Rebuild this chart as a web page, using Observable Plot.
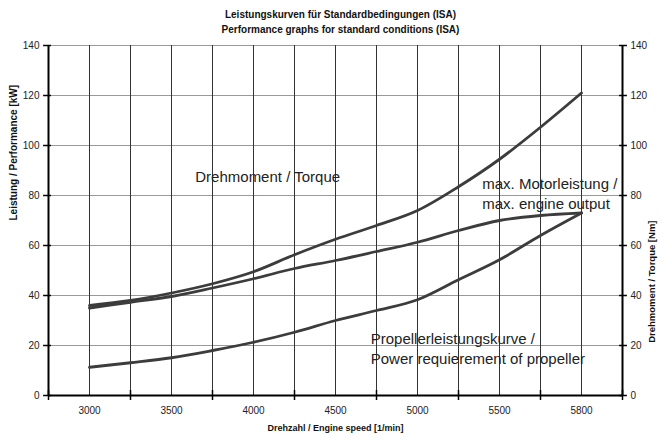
<!DOCTYPE html>
<html>
<head>
<meta charset="utf-8">
<script src="https://cdn.jsdelivr.net/npm/d3@7"></script>
<script src="https://cdn.jsdelivr.net/npm/@observablehq/plot@0.6"></script>
<style>
  html, body { margin: 0; padding: 0; background: #fff; }
  svg { font-family: "Liberation Sans", Arial, sans-serif; display: block; }
</style>
</head>
<body>
<div id="chart"></div>
<script>
// Category tick labels (engine speed, 1/min)
const speedLabels = ["3000", "3500", "4000", "4500", "5000", "5500", "5800"];
const speeds = speedLabels.map(Number);
const yTicks = [0, 20, 40, 60, 80, 100, 120, 140];

// Curve samples
const rpm       = [3000, 3250, 3500, 3750, 4000, 4250, 4500, 4750, 5000, 5250, 5500, 5650, 5800];
const torque    = [36, 38, 41, 44.7, 49.5, 56.3, 62.5, 68, 74, 83.5, 94.5, 107.3, 121];
const power     = [35, 37.3, 39.6, 43, 46.7, 50.8, 54, 57.6, 61.3, 66, 70, 72, 73];
const propeller = [11.3, 13.1, 15.1, 18, 21.3, 25.3, 30, 34, 38.3, 46.3, 54.3, 64, 73];

// Annotation texts
const labelTexts = ["Drehmoment / Torque", "max. Motorleistung /\nmax. engine output", "Propellerleistungskurve /\nPower requierement of propeller"];
const labelRpm = [3645, 5395, 4715];
const labelVal = [88, 81.2, 19];

const titleLines = ["Leistungskurven für Standardbedingungen (ISA)", "Performance graphs for standard conditions (ISA)"];
const xTitle = "Drehzahl / Engine speed [1/min]";
const yTitleLeft = "Leistung / Performance [kW]";
const yTitleRight = "Drehmoment / Torque [Nm]";

// map rpm to category position (categories are evenly spaced)
function pos(r) {
  for (let i = 0; i < speeds.length - 1; i++) {
    if (r <= speeds[i + 1]) return i + (r - speeds[i]) / (speeds[i + 1] - speeds[i]);
  }
  return speeds.length - 1;
}

const n = speeds.length;
const centers = speeds.map((_, i) => i);
const bounds = d3.range(-0.5, n, 1);            // category boundaries (incl. frame edges)
const innerBounds = bounds.slice(1, -1);
const gridX = centers.concat(innerBounds);
const xMin = -0.5, xMax = n - 0.5;

const series = [
  {name: "torque", values: torque},
  {name: "power", values: power},
  {name: "propeller", values: propeller}
];
const lineData = series.flatMap(s => s.values.map((v, i) => ({name: s.name, x: pos(rpm[i]), y: v})));
const labels = labelTexts.map((t, i) => ({text: t, x: pos(labelRpm[i]), y: labelVal[i]}));

const tickHalf = 0.06;

const chart = Plot.plot({
  width: 664,
  height: 440,
  marginLeft: 48,
  marginRight: 42,
  marginTop: 45,
  marginBottom: 45,
  style: {fontFamily: "'Liberation Sans', Arial, sans-serif", background: "#fff"},
  x: {type: "linear", domain: [xMin, xMax], axis: null},
  y: {type: "linear", domain: [0, 140], axis: null},
  marks: [
    // horizontal grid
    Plot.ruleY(yTicks.filter(d => d > 0), {x1: xMin, x2: xMax, stroke: "#9a9a9a", strokeWidth: 1}),
    // vertical grid
    Plot.ruleX(gridX, {y1: 0, y2: 140, stroke: "#333", strokeWidth: 1}),
    // curves
    Plot.line(lineData, {x: "x", y: "y", z: "name", stroke: "#3c3c3c", strokeWidth: 2.8, curve: "monotone-x"}),
    // axes lines
    Plot.ruleX([xMin, xMax], {y1: 0, y2: 140, stroke: "#000", strokeWidth: 2}),
    Plot.ruleY([0], {x1: xMin, x2: xMax, stroke: "#000", strokeWidth: 2}),
    // y ticks left / right
    Plot.ruleY(yTicks, {x1: xMin - tickHalf, x2: xMin + tickHalf * 0.6, stroke: "#000", strokeWidth: 1.5}),
    Plot.ruleY(yTicks, {x1: xMax - tickHalf * 0.6, x2: xMax + tickHalf, stroke: "#000", strokeWidth: 1.5}),
    // x ticks at category boundaries
    Plot.ruleX(bounds, {y1: -2, y2: 2, stroke: "#000", strokeWidth: 1.5}),
    // tick labels
    Plot.text(yTicks, {x: xMin, y: d => d, dx: -9, textAnchor: "end", fontSize: 10, fill: "#222"}),
    Plot.text(yTicks, {x: xMax, y: d => d, dx: 8, textAnchor: "start", fontSize: 10, fill: "#222"}),
    Plot.text(speedLabels, {x: (d, i) => i, y: 0, dy: 15, fontSize: 10, fill: "#222"}),
    // axis titles
    Plot.text([xTitle], {frameAnchor: "bottom", dy: 35, fontSize: 9, fontWeight: "bold", fill: "#111"}),
    Plot.text([yTitleLeft], {frameAnchor: "left", dx: -35, rotate: -90, fontSize: 10, fontWeight: "bold", fill: "#111"}),
    Plot.text([yTitleRight], {frameAnchor: "right", dx: 29, rotate: -90, fontSize: 9.5, fontWeight: "bold", fill: "#111"}),
    // chart title
    Plot.text([titleLines[0]], {frameAnchor: "top", dx: 5, dy: -35, fontSize: 10, fontWeight: "bold", fill: "#111"}),
    Plot.text([titleLines[1]], {frameAnchor: "top", dx: 5, dy: -20, fontSize: 10, fontWeight: "bold", fill: "#111"}),
    // annotations
    Plot.text(labels, {x: "x", y: "y", text: "text", textAnchor: "start", fontSize: 15, lineHeight: 1.32, fill: "#222"})
  ]
});
document.getElementById("chart").appendChild(chart);
</script>
</body>
</html>
